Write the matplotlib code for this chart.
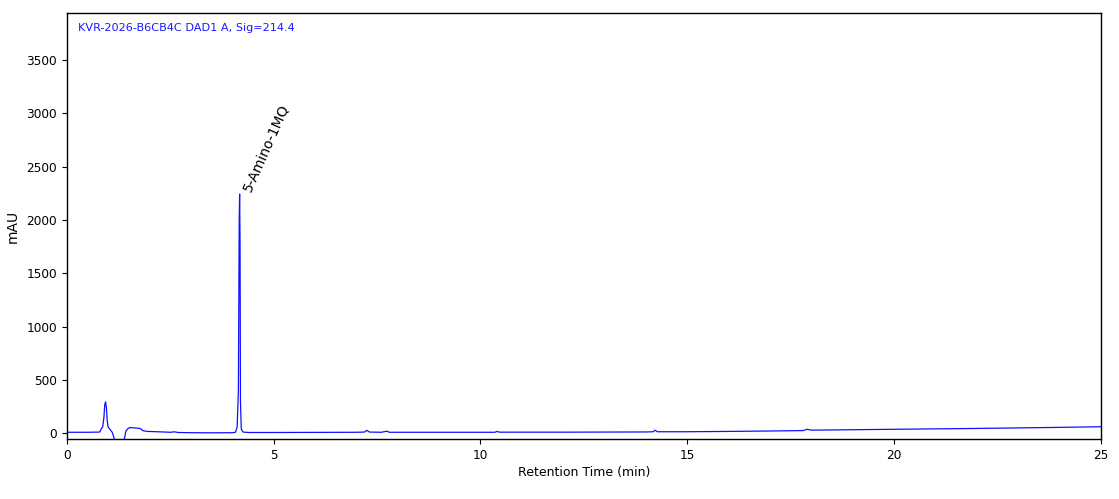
import matplotlib
matplotlib.use("Agg")
import matplotlib.pyplot as plt

# Retention time (min) and signal (mAU)
times = [0.0, 0.5, 0.8, 0.84, 0.87, 0.9, 0.92, 0.94, 0.96, 0.98, 1.0, 1.04, 1.1,
         1.16, 1.22, 1.28, 1.34, 1.39, 1.43, 1.48, 1.53, 1.6, 1.66, 1.72, 1.78,
         1.84, 1.95, 2.2, 2.5, 2.6, 2.7, 3.0, 3.5, 4.0, 4.08, 4.12, 4.15, 4.17,
         4.18, 4.19, 4.2, 4.22, 4.26, 4.4, 5.0, 6.0, 7.0, 7.2, 7.25, 7.32, 7.6,
         7.74, 7.8, 8.5, 10.0, 10.35, 10.4, 10.46, 12.0, 14.0, 14.18, 14.22,
         14.28, 15.0, 16.0, 17.0, 17.8, 17.9, 18.0, 19.0, 20.0, 21.0, 22.0,
         23.0, 24.0, 25.0]
signal = [10, 10, 12, 45, 60, 150, 270, 295, 240, 120, 60, 40, 10,
          -60, -150, -180, -150, -60, 20, 45, 55, 52, 50, 48, 45,
          25, 18, 15, 10, 14, 8, 6, 5, 6, 10, 60, 400, 2000,
          2243, 1800, 300, 40, 12, 8, 8, 9, 10, 12, 28, 12, 10,
          20, 10, 10, 10, 10, 18, 11, 11, 13, 15, 30,
          15, 15, 18, 22, 26, 38, 30, 34, 38, 42, 46,
          51, 56, 62]

xticks = [0, 5, 10, 15, 20, 25]
yticks = [0, 500, 1000, 1500, 2000, 2500, 3000, 3500]
peak_name = "5-Amino-1MQ"
peak_time = 4.18
peak_height = 2243
title_text = "KVR-2026-B6CB4C DAD1 A, Sig=214.4"

fig = plt.figure(figsize=(11.19, 4.99), dpi=100)
ax = fig.add_axes([0.0596, 0.1196, 0.9243, 0.8549])

ax.plot(times, signal, color="#1010ff", lw=0.9)
ax.set_xlim(0, 25)
ax.set_ylim(-56, 3942)
ax.set_xticks(xticks)
ax.set_yticks(yticks)
ax.tick_params(labelsize=8.7, length=3.5, width=0.8, direction="out")
for s in ax.spines.values():
    s.set_linewidth(1.0)
    s.set_color("black")

ax.set_xlabel("Retention Time (min)", fontsize=9, labelpad=3)
ax.set_ylabel("mAU", fontsize=10, labelpad=5)

ax.text(0.0105, 0.975, title_text, transform=ax.transAxes, color="#1a1aff",
        fontsize=8.1, ha="left", va="top")

ax.annotate(peak_name, xy=(peak_time, peak_height), xytext=(5, 2),
            textcoords="offset points", rotation=66, rotation_mode="anchor",
            ha="left", va="center", fontsize=10, color="black")

fig.savefig("out.png", dpi=100)
